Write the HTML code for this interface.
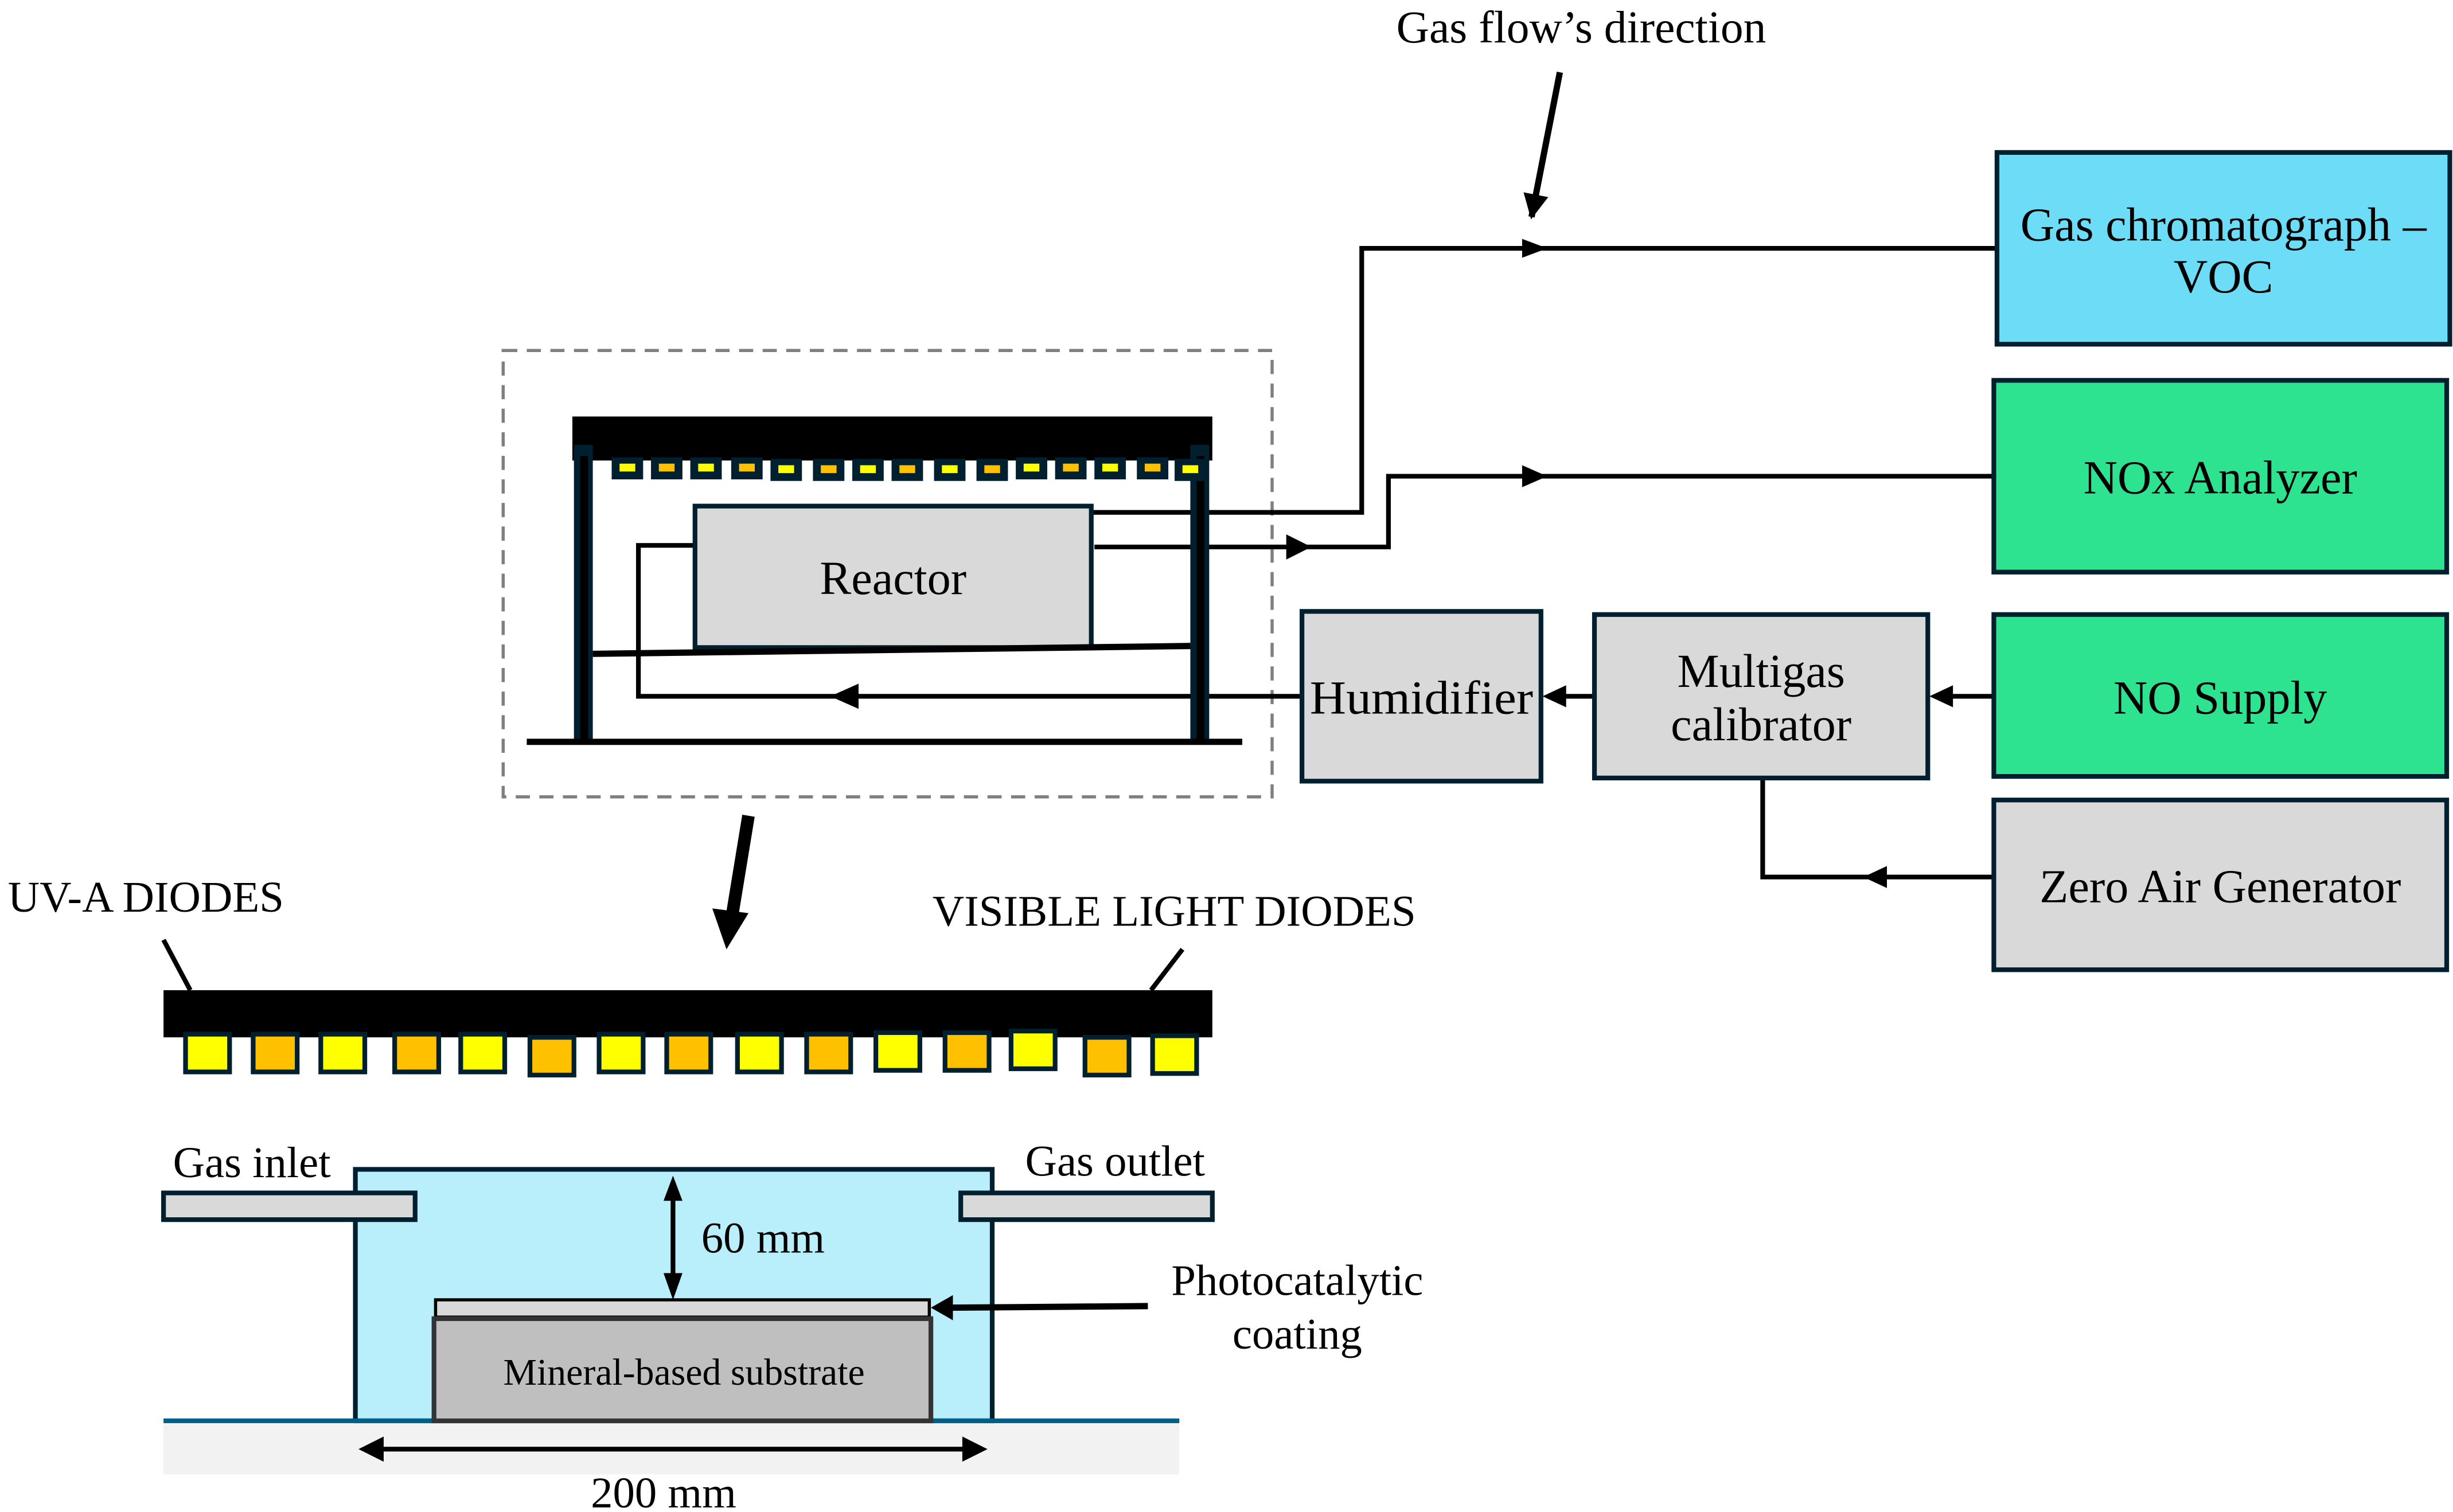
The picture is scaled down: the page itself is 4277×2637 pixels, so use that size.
<!DOCTYPE html>
<html><head><meta charset="utf-8"><style>
html,body{margin:0;padding:0;background:#fff}
svg{display:block}
text{font-family:"Liberation Serif",serif;fill:#000}
</style></head><body>
<svg width="4277" height="2637" viewBox="0 0 1560 962" preserveAspectRatio="none" xmlns="http://www.w3.org/2000/svg">
<defs>
<marker id="ah" viewBox="0 0 10 10" refX="9" refY="5" markerWidth="4" markerHeight="4" orient="auto"><path d="M0,0L10,5L0,10z" fill="#000"/></marker>
</defs>
<g font-size="30">
<text x="888" y="27" font-size="29">Gas flow’s direction</text>
<line x1="992" y1="46" x2="974" y2="138" stroke="#000" stroke-width="4" marker-end="url(#ah)"/>

<rect x="320" y="223" width="489" height="284" fill="none" stroke="#7f7f7f" stroke-width="2" stroke-dasharray="9,6"/>

<polyline points="694,326 866,326 866,158 1270,158" fill="none" stroke="#000" stroke-width="3"/>
<path d="M968,152L984,158L968,164z"/>
<polyline points="696,348 883,348 883,303 1268,303" fill="none" stroke="#000" stroke-width="3"/>
<path d="M818,340L834,348L818,356z"/>
<path d="M968,296L984,303L968,310z"/>
<polyline points="828,443 406,443 406,347 441,347" fill="none" stroke="#000" stroke-width="3"/>
<path d="M546,435L528,443L546,451z"/>
<line x1="1268" y1="443" x2="1240" y2="443" stroke="#000" stroke-width="3"/>
<path d="M1242,436L1227,443L1242,450z"/>
<line x1="1014" y1="443" x2="992" y2="443" stroke="#000" stroke-width="3"/>
<path d="M996,436L981,443L996,450z"/>
<polyline points="1268,558 1121,558 1121,495" fill="none" stroke="#000" stroke-width="3"/>
<path d="M1200,551L1185,558L1200,565z"/>

<rect x="1270" y="97" width="288" height="122" fill="#6ddcf7" stroke="#00202f" stroke-width="3"/>
<text x="1414" y="153" text-anchor="middle">Gas chromatograph –</text>
<text x="1414" y="186" text-anchor="middle">VOC</text>
<rect x="1268" y="242" width="288" height="122" fill="#2ee38f" stroke="#00202f" stroke-width="3"/>
<text x="1412" y="314" text-anchor="middle">NOx Analyzer</text>
<rect x="1268" y="391" width="288" height="103" fill="#2ee38f" stroke="#00202f" stroke-width="3"/>
<text x="1412" y="454" text-anchor="middle">NO Supply</text>
<rect x="1268" y="509" width="288" height="108" fill="#d9d9d9" stroke="#00202f" stroke-width="3"/>
<text x="1412" y="574" text-anchor="middle">Zero Air Generator</text>
<rect x="1014" y="391" width="212" height="104" fill="#d9d9d9" stroke="#00202f" stroke-width="3"/>
<text x="1120" y="437" text-anchor="middle">Multigas</text>
<text x="1120" y="471" text-anchor="middle">calibrator</text>
<rect x="828" y="389" width="152" height="108" fill="#d9d9d9" stroke="#00202f" stroke-width="3"/>
<text x="904" y="454" text-anchor="middle" textLength="142" lengthAdjust="spacingAndGlyphs">Humidifier</text>

<rect x="364" y="265" width="407" height="28" fill="#000"/>
<rect x="365" y="283" width="12" height="189" fill="#00202f"/>
<rect x="369" y="290" width="5" height="182" fill="#000"/>
<rect x="757" y="283" width="12" height="189" fill="#00202f"/>
<rect x="761" y="290" width="5" height="182" fill="#000"/>
<g fill="#00202f">
<rect x="389" y="291" width="20" height="14"/><rect x="414" y="291" width="20" height="14"/><rect x="439" y="291" width="20" height="14"/><rect x="465" y="291" width="20" height="14"/><rect x="490" y="292" width="20" height="14"/><rect x="517" y="292" width="20" height="14"/><rect x="542" y="292" width="20" height="14"/><rect x="567" y="292" width="20" height="14"/><rect x="594" y="292" width="20" height="14"/><rect x="621" y="292" width="20" height="14"/><rect x="646" y="291" width="20" height="14"/><rect x="671" y="291" width="20" height="14"/><rect x="696" y="291" width="20" height="14"/><rect x="723" y="291" width="20" height="14"/><rect x="747" y="292" width="20" height="14"/>
</g>
<g>
<rect x="394" y="295" width="10" height="5" fill="#ffff00"/><rect x="419" y="295" width="10" height="5" fill="#ffc000"/><rect x="444" y="295" width="10" height="5" fill="#ffff00"/><rect x="470" y="295" width="10" height="5" fill="#ffc000"/><rect x="495" y="296" width="10" height="5" fill="#ffff00"/><rect x="522" y="296" width="10" height="5" fill="#ffc000"/><rect x="547" y="296" width="10" height="5" fill="#ffff00"/><rect x="572" y="296" width="10" height="5" fill="#ffc000"/><rect x="599" y="296" width="10" height="5" fill="#ffff00"/><rect x="626" y="296" width="10" height="5" fill="#ffc000"/><rect x="651" y="295" width="10" height="5" fill="#ffff00"/><rect x="676" y="295" width="10" height="5" fill="#ffc000"/><rect x="701" y="295" width="10" height="5" fill="#ffff00"/><rect x="728" y="295" width="10" height="5" fill="#ffc000"/><rect x="752" y="296" width="10" height="5" fill="#ffff00"/>
</g>
<rect x="442" y="322" width="252" height="90" fill="#d9d9d9" stroke="#00202f" stroke-width="3"/>
<text x="568" y="378" text-anchor="middle">Reactor</text>
<line x1="377" y1="416" x2="757" y2="411" stroke="#000" stroke-width="4"/>
<line x1="335" y1="472" x2="790" y2="472" stroke="#000" stroke-width="4"/>

<line x1="476" y1="519" x2="466" y2="580" stroke="#000" stroke-width="8"/>
<path d="M453,578L462,604L476,581z"/>

<text x="5" y="580" font-size="28">UV-A DIODES</text>
<line x1="104" y1="598" x2="121" y2="630" stroke="#000" stroke-width="3"/>
<text x="593" y="589" font-size="28">VISIBLE LIGHT DIODES</text>
<line x1="752" y1="604" x2="732" y2="630" stroke="#000" stroke-width="3"/>
<rect x="104" y="630" width="667" height="30" fill="#000"/>
<g stroke="#00202f" stroke-width="3">
<rect x="118" y="658" width="28" height="24" fill="#ffff00"/><rect x="161" y="658" width="28" height="24" fill="#ffc000"/><rect x="204" y="658" width="28" height="24" fill="#ffff00"/><rect x="251" y="658" width="28" height="24" fill="#ffc000"/><rect x="293" y="658" width="28" height="24" fill="#ffff00"/><rect x="337" y="660" width="28" height="24" fill="#ffc000"/><rect x="381" y="658" width="28" height="24" fill="#ffff00"/><rect x="424" y="658" width="28" height="24" fill="#ffc000"/><rect x="469" y="658" width="28" height="24" fill="#ffff00"/><rect x="513" y="658" width="28" height="24" fill="#ffc000"/><rect x="557" y="657" width="28" height="24" fill="#ffff00"/><rect x="601" y="657" width="28" height="24" fill="#ffc000"/><rect x="643" y="656" width="28" height="24" fill="#ffff00"/><rect x="690" y="660" width="28" height="24" fill="#ffc000"/><rect x="733" y="659" width="28" height="24" fill="#ffff00"/>
</g>

<rect x="104" y="906" width="646" height="32" fill="#f2f2f2"/>
<rect x="226" y="744" width="405" height="160" fill="#b9eefb" stroke="#00202f" stroke-width="3"/>
<line x1="104" y1="904" x2="750" y2="904" stroke="#005f86" stroke-width="3"/>
<rect x="104" y="759" width="160" height="17" fill="#d9d9d9" stroke="#00202f" stroke-width="3"/>
<rect x="611" y="759" width="160" height="17" fill="#d9d9d9" stroke="#00202f" stroke-width="3"/>
<text x="110" y="749" font-size="28">Gas inlet</text>
<text x="652" y="748" font-size="28">Gas outlet</text>
<line x1="428" y1="760" x2="428" y2="814" stroke="#000" stroke-width="3"/>
<path d="M422,764L428,748L434,764z"/><path d="M422,810L428,827L434,810z"/>
<text x="446" y="797" font-size="28">60 mm</text>
<rect x="277" y="827" width="314" height="11" fill="#d9d9d9" stroke="#000" stroke-width="2"/>
<rect x="276" y="839" width="316" height="65" fill="#bfbfbf" stroke="#333" stroke-width="3"/>
<text x="435" y="881" text-anchor="middle" font-size="24">Mineral-based substrate</text>
<line x1="730" y1="831" x2="604" y2="832" stroke="#000" stroke-width="4"/>
<path d="M606,824L592,832L606,840z"/>
<text x="825" y="824" text-anchor="middle" font-size="28">Photocatalytic</text>
<text x="825" y="858" text-anchor="middle" font-size="28">coating</text>
<line x1="240" y1="922" x2="616" y2="922" stroke="#000" stroke-width="3"/>
<path d="M244,914L228,922L244,930z"/><path d="M612,914L628,922L612,930z"/>
<text x="422" y="959" text-anchor="middle" font-size="28">200 mm</text>
</g>
</svg>
</body></html>
